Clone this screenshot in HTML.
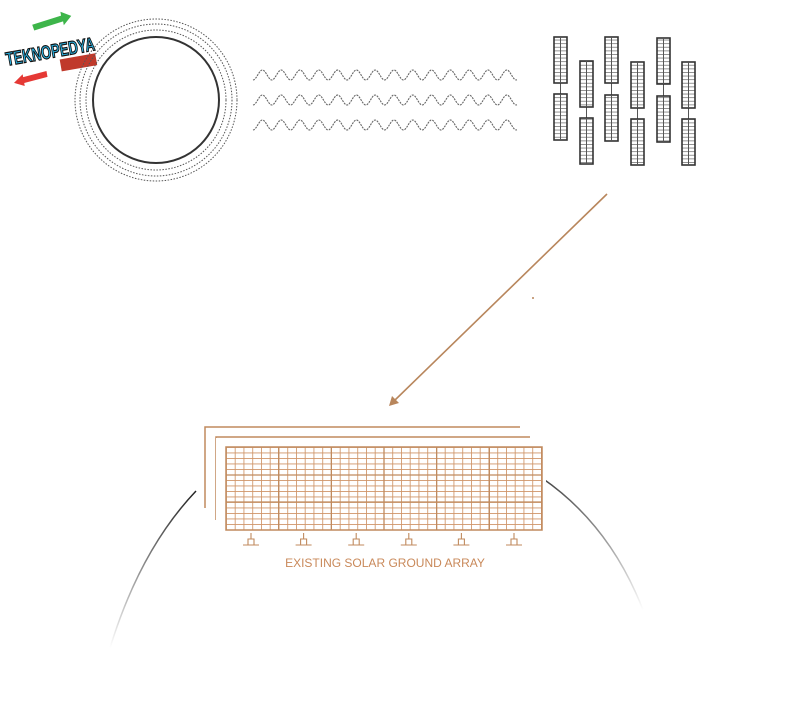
<!DOCTYPE html>
<html><head><meta charset="utf-8"><style>
html,body{margin:0;padding:0;background:#fff;width:801px;height:706px;overflow:hidden}
svg{display:block}
</style></head><body>
<svg id="s" width="801" height="706" viewBox="0 0 801 706" xmlns="http://www.w3.org/2000/svg">
<defs>
<linearGradient id="gl" x1="0" y1="0" x2="0" y2="1"><stop offset="0" stop-color="#222"/><stop offset="1" stop-color="#fff"/></linearGradient>
<linearGradient id="gr" x1="0" y1="0" x2="0" y2="1"><stop offset="0" stop-color="#444"/><stop offset="1" stop-color="#fff"/></linearGradient>
<pattern id="cell" x="226" y="447" width="8.75" height="5.5" patternUnits="userSpaceOnUse">
<path d="M0,0.4H8.75M0.4,0V5.5" stroke="#cf9467" stroke-width="0.9" fill="none"/></pattern>
<pattern id="pc" x="0" y="0" width="20" height="3.6" patternUnits="userSpaceOnUse">
<path d="M0,0.5H20" stroke="#888" stroke-width="0.9"/></pattern>
</defs>
<!-- logo -->
<g transform="rotate(-10 50 45)">
<path d="M36,22 l30,-4 l0,-4 l10,6 l-9,8 l0,-4 l-30,4z" fill="#3db54a"/>
<text x="4" y="58" font-family="Liberation Sans, sans-serif" font-weight="bold" font-size="19" fill="#2bb6e8" stroke="#111" stroke-width="1.2" textLength="90" lengthAdjust="spacingAndGlyphs">TEKNOPEDYA</text>
<rect x="57" y="61" width="36" height="12" fill="#c0392b"/>
<path d="M8,76 l10,-7 l0,3 l24,-2 l0,6 l-24,2 l0,3z" fill="#e53935"/>
</g>
<!-- sun -->
<circle cx="156" cy="100" r="63" fill="none" stroke="#333" stroke-width="2"/>
<circle cx="156" cy="100" r="70" fill="none" stroke="#555" stroke-width="1" stroke-dasharray="1.5 1.5"/>
<circle cx="156" cy="100" r="76" fill="none" stroke="#555" stroke-width="1" stroke-dasharray="1.5 1.5"/>
<circle cx="156" cy="100" r="81" fill="none" stroke="#555" stroke-width="1" stroke-dasharray="1.5 1.5"/>
<g id="waves" fill="none" stroke="#666" stroke-width="1.1" stroke-dasharray="2 1"></g>
<g id="panels"></g>
<!-- arrow -->
<line x1="607" y1="194" x2="394" y2="401" stroke="#b8865c" stroke-width="1.6"/>
<path d="M389,406 l3,-10 l7,7z" fill="#b8865c"/>
<circle cx="533" cy="298" r="1" fill="#b8865c"/>
<!-- ground arc -->
<path d="M196,491 Q140,550 110,648" fill="none" stroke="url(#gl)" stroke-width="1.5"/>
<path d="M542,478 Q610,525 643,610" fill="none" stroke="url(#gr)" stroke-width="1.5"/>
<!-- array -->
<path d="M520,427H205V508" fill="none" stroke="#c08a5e" stroke-width="1.5"/>
<path d="M530,437H216V520" fill="none" stroke="#c08a5e" stroke-width="1.5"/>
<rect x="216" y="438" width="330" height="95" fill="#fff"/>
<rect x="226" y="447" width="316" height="83" fill="url(#cell)" stroke="#c08a5e" stroke-width="1.5"/>
<g id="arr" stroke="#c08a5e" stroke-width="1.3" fill="none"></g>
<text x="385" y="567" text-anchor="middle" font-family="Liberation Sans, sans-serif" font-size="12" fill="#c9895a">EXISTING SOLAR GROUND ARRAY</text>
</svg>
<script>
var NS="http://www.w3.org/2000/svg";
function el(p,t,a){var e=document.createElementNS(NS,t);for(var k in a)e.setAttribute(k,a[k]);p.appendChild(e);return e;}
var w=document.getElementById('waves');
[75,100,125].forEach(function(y){var d="";for(var x=253;x<=517;x+=1){d+=(x==253?"M":"L")+x+","+(y-5*Math.cos((x-253)/18.8*2*Math.PI)*-1).toFixed(2)+" ";}el(w,'path',{d:d});});
var P=document.getElementById('panels');
var cols=[[554,37,94],[580,61,118],[605,37,95],[631,62,119],[657,38,96],[682,62,119]];
cols.forEach(function(c){var x=c[0];
 el(P,'line',{x1:x+6.5,y1:c[1]+46,x2:x+6.5,y2:c[2],stroke:'#555','stroke-width':1});
 [c[1],c[2]].forEach(function(y){
  el(P,'rect',{x:x,y:y,width:13,height:46,fill:'url(#pc)',stroke:'#333','stroke-width':1.6});
  el(P,'line',{x1:x+6.5,y1:y,x2:x+6.5,y2:y+46,stroke:'#555','stroke-width':1});
 });});
var A=document.getElementById('arr');
for(var i=1;i<6;i++){var x=226+i*316/6;el(A,'line',{x1:x,y1:447,x2:x,y2:530});}
el(A,'line',{x1:226,y1:475,x2:542,y2:475});el(A,'line',{x1:226,y1:502,x2:542,y2:502});
for(var i=0;i<6;i++){var x=251+i*52.6;
 el(A,'path',{d:"M"+(x-8)+",545H"+(x+8)+"M"+(x-3)+",545V539H"+(x+3)+"V545M"+x+",539V533",'stroke-width':1.1});}
</script>
</body></html>
